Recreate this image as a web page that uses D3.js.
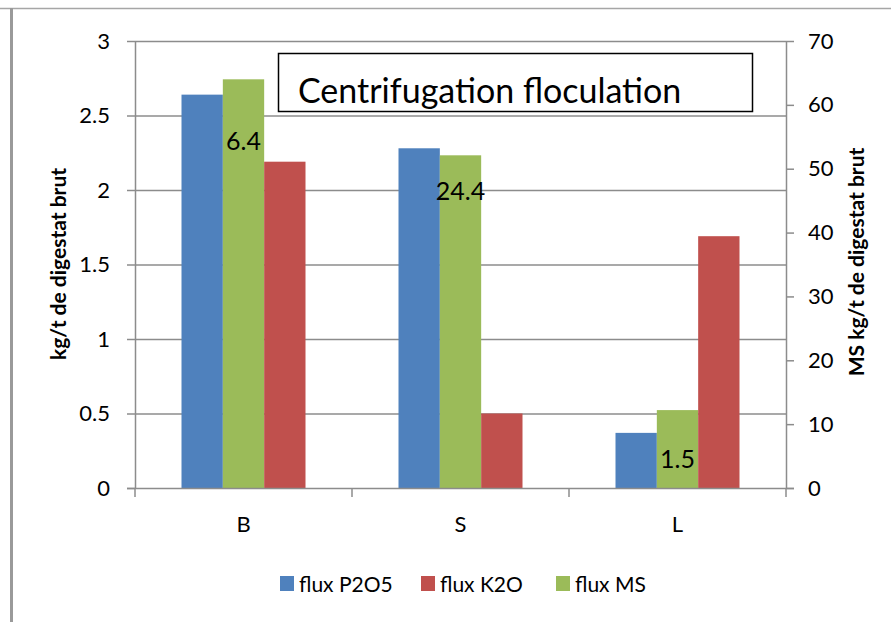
<!DOCTYPE html>
<html lang="fr">
<head>
  <meta charset="UTF-8">
  <title>Centrifugation floculation</title>
  <script src="https://d3js.org/d3.v7.min.js"></script>
  <style>
    body { margin: 0; background: #fff; font-family: Lato, "Noto Sans", sans-serif; }
    svg text { fill: #000; }
  </style>
</head>
<body>
  <div id="chart"></div>
  <script>
    // Data
    const categories = ["B", "S", "L"];
    const fluxP2O5 = [2.64, 2.28, 0.37];   // left axis, kg/t
    const fluxK2O = [2.19, 0.5, 1.69];     // left axis, kg/t
    const fluxMS = [64, 52.1, 12.2];       // right axis, kg/t
    const msLabels = ["6.4", "24.4", "1.5"];
    const leftTicks = [0, 0.5, 1, 1.5, 2, 2.5, 3];
    const rightTicks = [0, 10, 20, 30, 40, 50, 60, 70];

    const width = 891, height = 622;
    const margin = { left: 135, right: 105, top: 41, bottom: 134 };
    const plotW = width - margin.left - margin.right;
    const plotH = height - margin.top - margin.bottom;

    const colors = { p2o5: "#4F81BD", k2o: "#C0504D", ms: "#9BBB59" };
    const grid = "#8c8c8c";

    const svg = d3.select("#chart").append("svg")
      .attr("width", width)
      .attr("height", height);

    // outer frame pieces
    svg.append("line").attr("x1", 0).attr("x2", width).attr("y1", 8.5).attr("y2", 8.5)
      .attr("stroke", "#a6a6a6").attr("stroke-width", 1.5);
    svg.append("line").attr("x1", 11.5).attr("x2", 11.5).attr("y1", 8).attr("y2", height)
      .attr("stroke", "#9a9a9a").attr("stroke-width", 3);

    const g = svg.append("g").attr("transform", `translate(${margin.left},${margin.top})`);

    const x0 = d3.scaleBand().domain(categories).range([0, plotW]);
    const x1 = d3.scaleBand().domain(["p2o5", "ms", "k2o"])
      .range([46.5, x0.bandwidth() - 46.5]);
    const yL = d3.scaleLinear().domain([0, 3]).range([plotH, 0]);
    const yR = d3.scaleLinear().domain([0, 70]).range([plotH, 0]);

    // gridlines
    g.selectAll(".grid").data(leftTicks.filter(d => d > 0)).enter()
      .append("line")
      .attr("x1", 0).attr("x2", plotW)
      .attr("y1", d => yL(d) + 0.5).attr("y2", d => yL(d) + 0.5)
      .attr("stroke", grid).attr("stroke-width", 1.5);

    // bars
    const rows = categories.map((c, i) => ({
      cat: c, p2o5: fluxP2O5[i], k2o: fluxK2O[i], ms: fluxMS[i], label: msLabels[i]
    }));

    const bars = [];
    rows.forEach(r => {
      bars.push({ cat: r.cat, key: "p2o5", y: yL(r.p2o5) });
      bars.push({ cat: r.cat, key: "ms", y: yR(r.ms) });
      bars.push({ cat: r.cat, key: "k2o", y: yL(r.k2o) });
    });

    g.selectAll(".bar").data(bars).enter()
      .append("rect")
      .attr("x", d => x0(d.cat) + x1(d.key))
      .attr("width", x1.bandwidth())
      .attr("y", d => d.y)
      .attr("height", d => plotH - d.y)
      .attr("fill", d => colors[d.key]);

    // labels on the MS bars (placed in left-axis units)
    const labelAt = [2.33, 1.99, 0.19];
    g.selectAll(".lbl").data(rows).enter()
      .append("text")
      .attr("x", d => x0(d.cat) + x1("ms") + x1.bandwidth() / 2)
      .attr("y", (d, i) => yL(labelAt[i]))
      .attr("dy", "0.35em")
      .attr("text-anchor", "middle")
      .style("font-size", "25px")
      .text(d => d.label);

    // axes
    const axisStyle = sel => {
      sel.select(".domain").attr("stroke", grid).attr("stroke-width", 1.5);
      sel.selectAll(".tick line").attr("stroke", grid).attr("stroke-width", 1.5);
      sel.selectAll("text").style("font-size", "22px").style("font-family", "Lato, sans-serif");
    };

    g.append("g")
      .call(d3.axisLeft(yL).tickValues(leftTicks).tickSize(8).tickSizeOuter(0).tickPadding(17)
        .tickFormat(d3.format("")))
      .call(axisStyle);

    g.append("g")
      .attr("transform", `translate(${plotW},0)`)
      .call(d3.axisRight(yR).tickValues(rightTicks).tickSize(8).tickSizeOuter(0).tickPadding(14))
      .call(axisStyle);

    const xAxis = g.append("g").attr("transform", `translate(0,${plotH})`);
    xAxis.append("line").attr("x1", -8).attr("x2", plotW + 8)
      .attr("y1", 0.5).attr("y2", 0.5).attr("stroke", grid).attr("stroke-width", 1.5);
    xAxis.selectAll(".sep").data([0, 1, 2, 3]).enter()
      .append("line")
      .attr("x1", d => d * x0.step()).attr("x2", d => d * x0.step())
      .attr("y1", 0).attr("y2", 9)
      .attr("stroke", grid).attr("stroke-width", 1.5);
    xAxis.selectAll(".cat").data(categories).enter()
      .append("text")
      .attr("x", d => x0(d) + x0.bandwidth() / 2)
      .attr("y", 44)
      .attr("text-anchor", "middle")
      .style("font-size", "22px")
      .text(d => d);

    // axis titles
    svg.append("text")
      .attr("transform", "translate(66,264) rotate(-90)")
      .attr("text-anchor", "middle")
      .style("font-size", "21px").style("font-weight", "bold")
      .text("kg/t de digestat brut");

    svg.append("text")
      .attr("transform", "translate(864,262) rotate(-90)")
      .attr("text-anchor", "middle")
      .style("font-size", "21px").style("font-weight", "bold")
      .text("MS kg/t de digestat brut");

    // title box
    svg.append("rect")
      .attr("x", 278.5).attr("y", 53.5).attr("width", 474).attr("height", 58)
      .attr("fill", "#fff").attr("stroke", "#000").attr("stroke-width", 1.5);
    svg.append("text")
      .attr("x", 298).attr("y", 103)
      .style("font-size", "34px")
      .text("Centrifugation floculation");

    // legend
    const legendItems = [
      { key: "p2o5", name: "flux P2O5", x: 280 },
      { key: "k2o", name: "flux K2O", x: 421 },
      { key: "ms", name: "flux MS", x: 556 }
    ];
    const legend = svg.append("g");
    legend.selectAll("rect").data(legendItems).enter()
      .append("rect")
      .attr("x", d => d.x).attr("y", 576)
      .attr("width", 14).attr("height", 15)
      .attr("fill", d => colors[d.key]);
    legend.selectAll("text").data(legendItems).enter()
      .append("text")
      .attr("x", d => d.x + 19).attr("y", 592)
      .style("font-size", "21px")
      .text(d => d.name);
  </script>
</body>
</html>
